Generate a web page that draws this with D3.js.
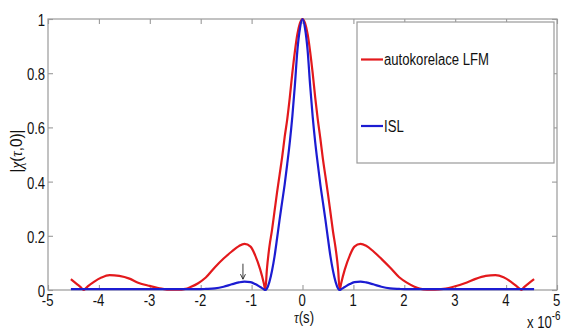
<!DOCTYPE html>
<html>
<head>
<meta charset="utf-8">
<script src="https://cdn.jsdelivr.net/npm/d3@7"></script>
<style>
  html, body { margin: 0; padding: 0; background: #fff; }
  svg { display: block; }
  .lbl { font-family: "Liberation Sans", Arial, Helvetica, sans-serif; fill: #111; }
</style>
</head>
<body>
<svg id="chart" width="563" height="332"></svg>
<script>
// ---- data ----
const tau = [-4.55,-4.42,-4.35,-4.3,-4.25,-4.2,-4.09,-3.95,-3.79,-3.6,-3.4,-3.23,-3.0,-2.77,-2.6,-2.45,-2.3,-2.2,-2.05,-1.9,-1.72,-1.55,-1.39,-1.25,-1.14,-1.02,-0.93,-0.83,-0.76,-0.73,-0.7,-0.65,-0.6,-0.55,-0.5,-0.45,-0.4,-0.35,-0.3,-0.25,-0.2,-0.15,-0.1,-0.05,0,
             0.05,0.1,0.15,0.2,0.25,0.3,0.35,0.4,0.45,0.5,0.55,0.6,0.65,0.7,0.73,0.76,0.83,0.93,1.02,1.14,1.25,1.39,1.55,1.72,1.9,2.05,2.2,2.3,2.45,2.6,2.77,3.0,3.23,3.4,3.6,3.79,3.95,4.09,4.2,4.25,4.3,4.35,4.42,4.55];

const lfm = [0.040,0.020,0.009,0.000,0.008,0.016,0.031,0.046,0.055,0.052,0.042,0.027,0.015,0.005,0.001,0.001,0.004,0.011,0.025,0.046,0.084,0.116,0.142,0.162,0.170,0.160,0.128,0.075,0.025,0.000,0.075,0.160,0.220,0.290,0.360,0.425,0.490,0.565,0.630,0.710,0.800,0.880,0.945,0.985,1.000,
             0.985,0.945,0.880,0.800,0.710,0.630,0.560,0.485,0.420,0.355,0.285,0.215,0.155,0.075,0.000,0.025,0.075,0.128,0.160,0.170,0.163,0.143,0.115,0.083,0.047,0.027,0.012,0.005,0.001,0.001,0.004,0.014,0.028,0.041,0.052,0.055,0.047,0.031,0.015,0.007,0.000,0.010,0.021,0.040];

const isl = [0.003,0.003,0.003,0.003,0.003,0.003,0.003,0.003,0.003,0.003,0.003,0.003,0.003,0.003,0.003,0.003,0.003,0.003,0.003,0.004,0.006,0.012,0.021,0.028,0.031,0.029,0.022,0.011,0.003,0.000,0.005,0.030,0.070,0.123,0.190,0.260,0.325,0.390,0.465,0.545,0.640,0.755,0.885,0.965,1.000,
             0.965,0.885,0.755,0.640,0.545,0.465,0.390,0.325,0.260,0.190,0.123,0.070,0.030,0.005,0.000,0.003,0.011,0.022,0.029,0.031,0.028,0.021,0.012,0.006,0.004,0.003,0.003,0.003,0.003,0.003,0.003,0.003,0.003,0.003,0.003,0.003,0.003,0.003,0.003,0.003,0.003,0.003,0.003,0.003];

const xTicks = [-5,-4,-3,-2,-1,0,1,2,3,4,5];
const xTickLabels = ["-5","-4","-3","-2","-1","0","1","2","3","4","5"];
const yTicks = [0,0.2,0.4,0.6,0.8,1];
const yTickLabels = ["0","0.2","0.4","0.6","0.8","1"];
const seriesNames = ["autokorelace LFM","ISL"];
const seriesColors = ["#e3191c","#1c1cd2"];

// ---- drawing ----
const svg = d3.select("#chart");
const L = 48, R = 557, T = 19, B = 290;
const x = d3.scaleLinear().domain([-5,5]).range([L,R]);
const y = d3.scaleLinear().domain([0,1]).range([B,T]);
const axisCol = "#9a9a9a";
const fontSize = 16;
const sx = 0.82; // horizontal condensing of the Arial-like text

// box
svg.append("rect").attr("x",L).attr("y",T).attr("width",R-L).attr("height",B-T)
   .attr("fill","#fff").attr("stroke",axisCol).attr("stroke-width",1.2);

// axes
const gx = svg.append("g").attr("transform",`translate(0,${B})`)
  .call(d3.axisBottom(x).tickValues(xTicks).tickSize(-5).tickPadding(5).tickFormat((d,i)=>xTickLabels[i]));
const gxt = svg.append("g").attr("transform",`translate(0,${T})`)
  .call(d3.axisTop(x).tickValues(xTicks).tickSize(-5).tickFormat(""));
const gy = svg.append("g").attr("transform",`translate(${L},0)`)
  .call(d3.axisLeft(y).tickValues(yTicks).tickSize(-5).tickPadding(3.5).tickFormat((d,i)=>yTickLabels[i]));
const gyr = svg.append("g").attr("transform",`translate(${R},0)`)
  .call(d3.axisRight(y).tickValues(yTicks).tickSize(-5).tickFormat(""));
[gx,gxt,gy,gyr].forEach(g=>{
  g.select(".domain").remove();
  g.selectAll(".tick line").attr("stroke",axisCol).attr("stroke-width",1.1);
  g.selectAll("text").attr("class","lbl").attr("font-size",fontSize).attr("fill","#111")
   .attr("transform",`scale(${sx},1)`);
});
gx.selectAll("text").attr("x",-1);
gy.selectAll("text").attr("dy","0.40em");

// lines
const data = tau.map((t,i)=>({t, a: lfm[i], b: isl[i]}));
const lineA = d3.line().x(d=>x(d.t)).y(d=>y(d.a)).curve(d3.curveMonotoneX);
const lineB = d3.line().x(d=>x(d.t)).y(d=>y(d.b)).curve(d3.curveMonotoneX);
svg.append("path").datum(data).attr("d",lineA).attr("fill","none")
   .attr("stroke",seriesColors[0]).attr("stroke-width",2.2).attr("stroke-linejoin","round");
svg.append("path").datum(data).attr("d",lineB).attr("fill","none")
   .attr("stroke",seriesColors[1]).attr("stroke-width",2.2).attr("stroke-linejoin","round");

// small annotation arrow on the ISL side lobe
const ax = x(-1.17), ay0 = y(0.097), ay1 = y(0.04);
svg.append("line").attr("x1",ax).attr("x2",ax).attr("y1",ay0).attr("y2",ay1)
   .attr("stroke","#222").attr("stroke-width",0.9);
svg.append("path").attr("d",`M${ax-2.5},${ay1-5} L${ax},${ay1} L${ax+2.5},${ay1-5}`)
   .attr("fill","none").attr("stroke","#222").attr("stroke-width",0.9);

// legend
const lg = svg.append("g");
lg.append("rect").attr("x",357).attr("y",22).attr("width",197).attr("height",141)
  .attr("fill","#fff").attr("stroke",axisCol).attr("stroke-width",1.2);
const legY = [59.5,126];
seriesNames.forEach((n,i)=>{
  lg.append("line").attr("x1",361).attr("x2",383).attr("y1",legY[i]).attr("y2",legY[i])
    .attr("stroke",seriesColors[i]).attr("stroke-width",2.2);
  lg.append("text").attr("class","lbl")
    .attr("transform",`translate(384,${legY[i]+5.8}) scale(${sx},1)`)
    .attr("font-size",fontSize).text(n);
});

// axis labels
svg.append("text").attr("class","lbl").attr("font-size",fontSize).attr("text-anchor","middle")
   .attr("transform",`translate(304,323) scale(${sx},1)`)
   .html('<tspan font-style="italic" font-family="Liberation Serif, serif">τ</tspan>(s)');
svg.append("text").attr("class","lbl").attr("font-size",17).attr("text-anchor","middle")
   .attr("transform",`translate(22,151) rotate(-90) scale(0.9,1)`)
   .html('|<tspan font-style="italic" font-family="Liberation Serif, serif">χ</tspan>(<tspan font-style="italic" font-family="Liberation Serif, serif">τ</tspan>,0)|');
// exponent
const ex = svg.append("text").attr("class","lbl").attr("font-size",fontSize)
   .attr("transform",`translate(527,328) scale(${sx},1)`);
ex.append("tspan").text("x 10");
ex.append("tspan").attr("font-size",12).attr("dy",-8).text("-6");
</script>
</body>
</html>
